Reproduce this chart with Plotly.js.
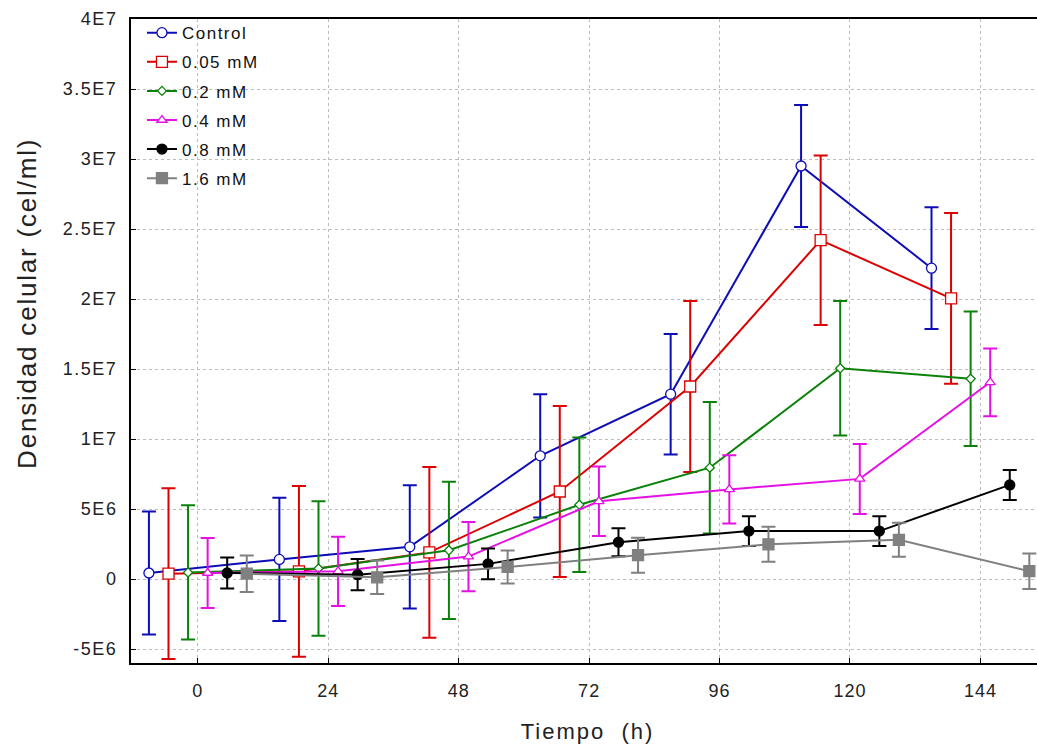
<!DOCTYPE html>
<html><head><meta charset="utf-8">
<script src="https://cdn.plot.ly/plotly-3.0.1.min.js"></script>
<style>
html,body{margin:0;padding:0;overflow:hidden;background:#fff;}
#chart{width:1060px;height:749px;}
.xtitle{letter-spacing:2px;}
.ytick text{letter-spacing:1.5px;}
.xtick text{letter-spacing:1px;}
.legendtext{letter-spacing:1.5px;}
.annotation-text{letter-spacing:1.8px;}
</style>
</head><body><div id="chart"></div>
<script>
const times = [0, 24, 48, 72, 96, 120, 144];
const seriesNames = ["Control", "0.05 mM", "0.2 mM", "0.4 mM", "0.8 mM", "1.6 mM"];
const control   = [0.43e6, 1.4e6, 2.3e6, 8.8e6, 13.2e6, 29.5e6, 22.2e6];
const controlErr= [4.4e6, 4.4e6, 4.4e6, 4.4e6, 4.3e6, 4.35e6, 4.35e6];
const mM005     = [0.38e6, 0.55e6, 1.9e6, 6.25e6, 13.75e6, 24.2e6, 20.05e6];
const mM005Err  = [6.1e6, 6.1e6, 6.1e6, 6.1e6, 6.1e6, 6.05e6, 6.1e6];
const mM02      = [0.47e6, 0.75e6, 2.05e6, 5.3e6, 7.95e6, 15.05e6, 14.3e6];
const mM02Err   = [4.8e6, 4.8e6, 4.9e6, 4.8e6, 4.7e6, 4.8e6, 4.8e6];
const mM04      = [0.43e6, 0.55e6, 1.6e6, 5.55e6, 6.4e6, 7.15e6, 14.05e6];
const mM04Err   = [2.5e6, 2.47e6, 2.47e6, 2.48e6, 2.44e6, 2.5e6, 2.42e6];
const mM08      = [0.43e6, 0.31e6, 1.08e6, 2.63e6, 3.42e6, 3.42e6, 6.72e6];
const mM08Err   = [1.1e6, 1.12e6, 1.1e6, 1.0e6, 1.06e6, 1.06e6, 1.07e6];
const mM16      = [0.38e6, 0.12e6, 0.86e6, 1.7e6, 2.48e6, 2.8e6, 0.56e6];
const mM16Err   = [1.3e6, 1.2e6, 1.18e6, 1.25e6, 1.25e6, 1.21e6, 1.27e6];
const yTickVals = [-5e6, 0, 5e6, 1e7, 1.5e7, 2e7, 2.5e7, 3e7, 3.5e7, 4e7];
const yTickText = ["-5E6", "0", "5E6", "1E7", "1.5E7", "2E7", "2.5E7", "3E7", "3.5E7", "4E7"];
const xTickVals = [0, 24, 48, 72, 96, 120, 144];
const xTickText = ["0", "24", "48", "72", "96", "120", "144"];
const xTitle = "Tiempo  (h)";
const yTitle = "Densidad celular (cel/ml)";

const values = [control, mM005, mM02, mM04, mM08, mM16];
const errors = [controlErr, mM005Err, mM02Err, mM04Err, mM08Err, mM16Err];
// horizontal dodge of each series around its time point (display offset)
const dodge = [-9, -5.4, -1.8, 1.8, 5.4, 9];
const colors = ["#0c0cb8", "#dd0000", "#0a820a", "#e410e4", "#000000", "#808080"];
const symbols = ["circle", "square", "diamond", "triangle-up", "circle", "square"];
const fills = ["#ffffff", "#ffffff", "#ffffff", "#ffffff", "#000000", "#808080"];
const sizes = [10, 11, 7, 9, 10, 11];

const traces = values.map((v, i) => ({
  type: "scatter", mode: "lines+markers", name: seriesNames[i], legendgroup: "g" + i,
  x: times.map(t => t + dodge[i]), y: v,
  line: {color: colors[i], width: 2},
  marker: {symbol: symbols[i], size: sizes[i], color: fills[i], line: {color: colors[i], width: 1.3}},
  error_y: {type: "data", array: errors[i], visible: true, color: colors[i], thickness: 2, width: 7}
}));

const fam = "Liberation Sans, Arial, sans-serif";
const layout = {
  width: 1060, height: 749,
  margin: {l: 131, r: 16, t: 19, b: 86},
  paper_bgcolor: "#fff", plot_bgcolor: "#fff",
  showlegend: true,
  legend: {x: 0.012, y: 1.006, xanchor: "left", yanchor: "top", bgcolor: "rgba(0,0,0,0)",
           font: {family: fam, size: 17, color: "#111"}, tracegroupgap: 4, itemwidth: 30},
  xaxis: {range: [-12.3, 155.7], tickvals: xTickVals, ticktext: xTickText,
          showgrid: true, gridcolor: "#bcbcbc", griddash: "dot", gridwidth: 1,
          zeroline: false, showline: true, mirror: true, linecolor: "#000", linewidth: 2,
          ticks: "inside", ticklen: 5, tickwidth: 1, tickcolor: "#000", ticklabelstandoff: 10,
          tickfont: {family: fam, size: 18, color: "#222"},
          title: {text: xTitle, font: {family: fam, size: 22, color: "#222"}, standoff: 24}},
  yaxis: {range: [-6e6, 4e7], tickvals: yTickVals, ticktext: yTickText,
          showgrid: true, gridcolor: "#bcbcbc", griddash: "dot", gridwidth: 1,
          zeroline: false, showline: true, mirror: true, linecolor: "#000", linewidth: 2,
          ticks: "inside", ticklen: 5, tickwidth: 1, tickcolor: "#000", ticklabelstandoff: 8,
          tickfont: {family: fam, size: 18, color: "#222"}},
  annotations: [{text: yTitle, textangle: -90, xref: "paper", yref: "paper",
                 x: -0.114, y: 0.559, xanchor: "center", yanchor: "middle", showarrow: false,
                 font: {family: fam, size: 26, color: "#222"}}]
};
Plotly.newPlot("chart", traces, layout, {displayModeBar: false, responsive: false});
</script></body></html>
